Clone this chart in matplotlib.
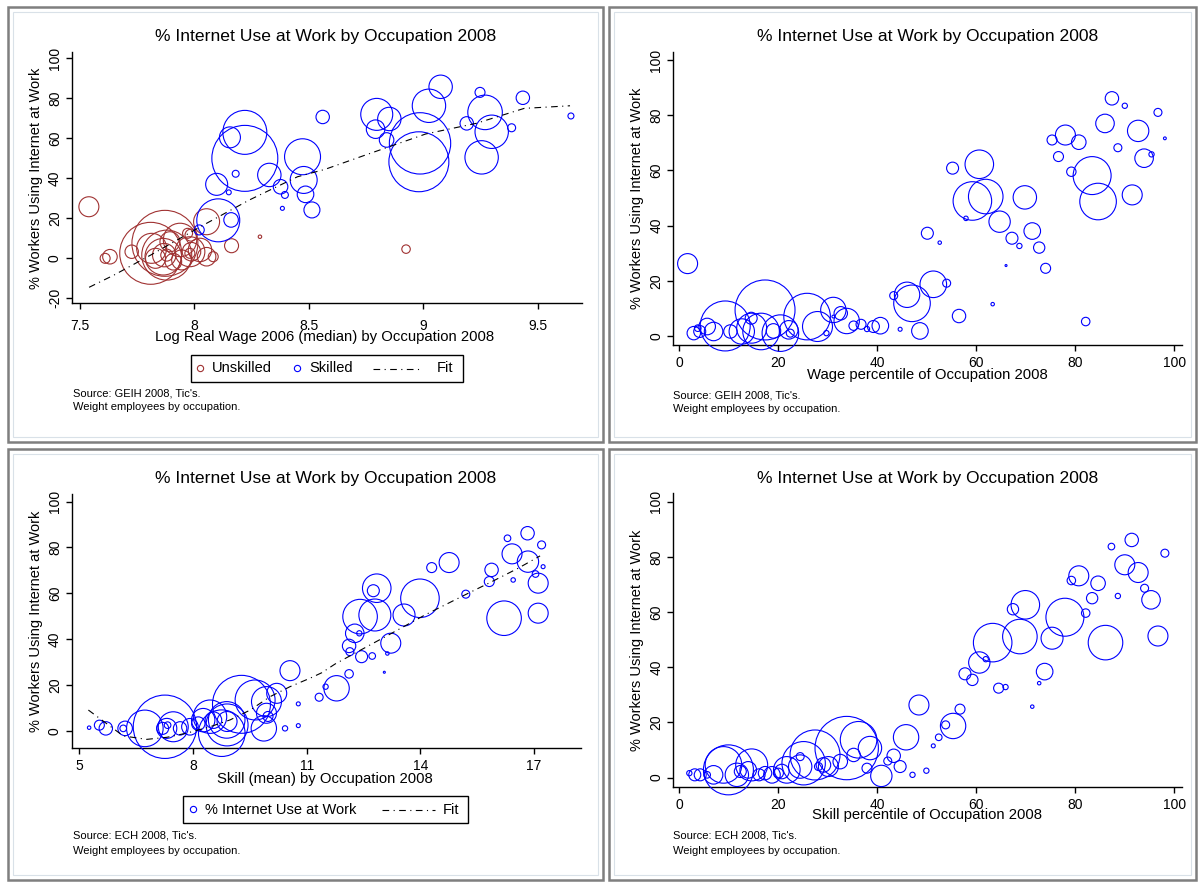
import matplotlib
matplotlib.use('Agg')
import matplotlib.pyplot as plt
import numpy as np
from matplotlib.patches import Rectangle

plt.rcParams['font.family'] = ['Liberation Sans', 'DejaVu Sans']

# ---------------- data ----------------
title_text = "% Internet Use at Work by Occupation 2008"
ylabel_text = "% Workers Using Internet at Work"

# Panel 1: log real wage
p1_sk_x = [8.22, 8.22, 8.155, 8.097, 8.18, 8.15, 8.327, 8.472, 8.477, 8.376,
           8.395, 8.485, 8.513, 8.384, 8.56, 8.104, 8.16, 8.021, 8.796, 8.851,
           8.791, 8.839, 9.024, 9.075, 8.985, 8.98, 9.189, 9.247, 9.269, 9.298,
           9.254, 9.385, 9.434, 9.644]
p1_sk_y = [63, 50, 60.5, 37, 42.3, 33, 41.7, 50.8, 39.2, 35.8,
           31.7, 32, 24.2, 25, 70.7, 19, 19.2, 14.2, 72, 69.7,
           64.6, 59.2, 76.3, 85.8, 57.5, 48.3, 67.5, 83, 73, 63.3,
           50.5, 65.3, 80.3, 71.2]
p1_sk_w = [484, 1089, 110, 121, 12, 6, 137, 324, 182, 53,
           12, 69, 64, 4, 45, 462, 53, 25, 256, 137,
           86, 53, 279, 137, 942, 900, 45, 25, 299, 279,
           279, 16, 45, 9]
p1_un_x = [7.539, 7.631, 7.61, 7.726, 7.809, 7.871, 7.879, 7.864, 7.868, 7.879,
           7.813, 7.98, 7.987, 7.98, 7.937, 8.024, 8.053, 8.053, 7.97, 7.944,
           7.985, 7.908, 7.893, 7.83, 8.082, 8.162, 8.286, 8.924]
p1_un_y = [25.8, 0.8, 0, 3.3, 2.5, 7.5, 1.6, 0.8, 1.6, 1.6,
           5, 3.3, 3.3, 2.5, 9.2, 4.2, 0.8, 18.3, 12.5, -0.8,
           11.6, -1.7, 8.3, 0, 0.8, 6.3, 10.8, 4.6]
p1_un_w = [100, 53, 25, 45, 961, 1089, 625, 335, 137, 36,
           225, 225, 86, 25, 279, 137, 86, 169, 25, 100,
           36, 69, 100, 100, 25, 49, 3, 18]
fit1_x = [7.54, 7.65, 7.81, 8.04, 8.24, 8.45, 8.57, 8.76, 9.01, 9.23, 9.44, 9.64]
fit1_y = [-14.5, -8.3, 1.7, 16.7, 29.2, 40.8, 44.5, 52.2, 62.2, 67.5, 75, 76.3]
p1_xticks = [7.5, 8, 8.5, 9, 9.5]
p1_xticklabels = ['7.5', '8', '8.5', '9', '9.5']
p1_yticks = [-20, 0, 20, 40, 60, 80, 100]

# Panel 2: wage percentile
p2_x = [87.4, 90, 96.7, 98.1, 86, 92.7, 88.6, 93.9, 95.4, 78,
        80.7, 75.3, 76.6, 79.2, 83.4, 84.6, 91.5, 82.1, 60.6, 59.2,
        61.9, 55.2, 57.9, 64.7, 69.8, 71.3, 67.2, 68.7, 72.7, 74,
        66, 52.6, 50.1, 63.3, 56.5, 51.3, 54, 1.65, 46, 47,
        43.3, 48.6, 44.6, 40.6, 39.2, 37.9, 36.7, 35.2, 33.8, 32.6,
        31.1, 31.1, 29.7, 27.9, 25.8, 22.1, 22.4, 20.4, 19, 17.3,
        16.5, 14.6, 14.5, 12.6, 10.3, 9.25, 6.9, 5.6, 4.1, 2.9, 3.7]
p2_y = [86.1, 83.4, 81, 71.6, 77, 74.3, 68.2, 64.4, 65.8, 72.8,
        70.2, 71, 65, 59.5, 58.1, 48.7, 51.1, 5.2, 62.2, 48.9,
        50.5, 60.8, 42.6, 41.4, 50.2, 38, 35.4, 32.6, 32, 24.5,
        25.5, 33.8, 37.2, 11.5, 7.2, 18.7, 19.1, 26.2, 14.9, 11.8,
        14.6, 1.8, 2.4, 3.7, 3.4, 2.5, 4.2, 3.7, 5.4, 8.2,
        9.4, 7, 1, 3.4, 7, 2.2, 1, 1, 1.8, 9.4,
        1.6, 2.8, 6.4, 1.6, 1.6, 3.6, 1.6, 3.4, 1.6, 1, 2.8]
p2_w = [45, 7, 16, 2, 86, 114, 16, 86, 7, 100,
        53, 25, 25, 22, 361, 335, 100, 18, 204, 372,
        299, 36, 5, 114, 137, 69, 36, 7, 32, 25,
        1, 3, 36, 3, 45, 177, 16, 100, 161, 335,
        16, 69, 4, 69, 36, 7, 25, 22, 161, 45,
        161, 2, 7, 225, 543, 86, 16, 335, 53, 900,
        335, 225, 36, 161, 45, 625, 86, 69, 36, 45, 11]

# Panel 3: skill mean
p3_x = [16.83, 16.3, 17.2, 16.42, 16.84, 17.24, 17.04, 17.11, 17.11, 16.21,
        16.45, 15.88, 15.82, 15.2, 14.76, 14.3, 13.99, 13.57, 12.85, 12.76,
        12.41, 12.8, 12.27, 12.39, 12.12, 12.14, 12.45, 12.73, 13.22, 13.13,
        13.05, 12.12, 11.79, 11.5, 10.56, 11.33, 10.78, 10.78, 10.43, 10.21,
        9.94, 9.94, 9.98, 9.87, 9.64, 9.28, 8.89, 8.9, 8.9, 8.76,
        8.45, 8.54, 8.27, 8.14, 7.92, 7.66, 7.48, 7.31, 7.33, 7.26,
        7.2, 6.73, 6.21, 6.16, 5.7, 5.53, 5.26]
p3_y = [86.2, 84, 81.1, 77.2, 73.8, 71.6, 68.4, 64.4, 51.3, 49.1,
        65.8, 70.2, 65.1, 59.6, 73.4, 71.2, 57.8, 50.5, 62.2, 61.1,
        49.8, 50.5, 42.5, 42.5, 37, 34.5, 32.3, 32.6, 38.2, 33.7,
        25.5, 24.8, 18.5, 19.2, 26.2, 14.6, 11.7, 2.2, 1, 16.3,
        7.6, 12.7, 6.2, 1, 13.4, 11.5, 4.7, 4, 2.5, -1.1,
        6.1, 4.6, 4.6, 3.1, 1.7, 1, 1.7, 1, 2.4, 1.7,
        1, 1, 1, 1, 1, 2.4, 1.3]
p3_w = [45, 11, 16, 100, 114, 4, 11, 100, 100, 299,
        5, 45, 25, 16, 100, 25, 372, 121, 204, 36,
        299, 256, 86, 7, 45, 16, 36, 11, 100, 3,
        1, 18, 161, 7, 100, 16, 4, 4, 7, 100,
        100, 225, 25, 161, 400, 841, 335, 100, 441, 543,
        279, 69, 137, 45, 69, 45, 225, 100, 11, 1005,
        36, 335, 53, 11, 45, 25, 3]
fit3_x = [5.24, 6.16, 6.78, 7.31, 7.83, 8.45, 8.98, 9.51, 10.03, 10.56,
          11.09, 11.4, 11.75, 12.27, 13.24, 14.12, 15.18, 15.88, 16.58, 17.16]
fit3_y = [9, -2.3, -3.8, -2.9, -1.1, 1.7, 4.7, 9, 14.8, 19.2,
          22.9, 25.3, 29.1, 33.8, 42.5, 50.5, 59.3, 65, 70.9, 76.3]
p3_xticks = [5, 8, 11, 14, 17]

# Panel 4: skill percentile
p4_x = [91.4, 87.3, 98.1, 90, 92.7, 94, 95.3, 88.6, 96.7, 80.7,
        79.2, 84.6, 83.4, 82.1, 77.9, 86.1, 75.3, 73.8, 72.7, 71.3,
        69.9, 67.4, 68.8, 63.3, 60.6, 61.9, 57.7, 59.2, 64.5, 65.9,
        56.7, 55.3, 53.8, 52.4, 51.3, 48.4, 49.9, 45.8, 47.1, 43.3,
        44.6, 42.1, 40.8, 38.5, 37.9, 36.2, 35.2, 33.8, 32.5, 30.1,
        29.1, 28.1, 27.4, 25.1, 24.4, 24.4, 21.7, 20.7, 20, 18.7,
        17.3, 16.1, 14.6, 13.9, 12.3, 11.6, 9.9, 8.9, 6.9, 5.6,
        4.2, 3.1, 2]
p4_y = [86.1, 83.7, 81.3, 77.1, 74.3, 68.6, 64.4, 65.8, 51.3, 73.1,
        71.4, 70.4, 65, 59.6, 58.1, 48.9, 50.5, 38.4, 34.2, 25.7,
        62.6, 61, 51.1, 48.9, 41.7, 42.9, 37.6, 35.4, 32.4, 32.8,
        24.8, 18.7, 19.1, 14.6, 11.5, 26.3, 2.5, 14.6, 1, 7.9,
        4, 6, 0.6, 10.7, 3.4, 13.7, 8.2, 10.7, 5.8, 4,
        4.6, 4, 8.2, 5.2, 4, 7.6, 2.8, 2.2, 1.6, 1,
        1.6, 1, 4.6, 2.8, 2.2, 1, 2.8, 4.6, 1, 1,
        1, 1, 1.6]
p4_w = [45, 11, 16, 100, 100, 16, 86, 7, 100, 100,
        18, 53, 32, 18, 361, 299, 121, 69, 3, 3,
        204, 32, 299, 372, 114, 7, 36, 32, 25, 7,
        25, 161, 16, 11, 4, 100, 7, 161, 7, 45,
        36, 16, 114, 137, 25, 335, 45, 1005, 53, 100,
        53, 16, 625, 471, 137, 16, 177, 53, 25, 69,
        45, 36, 256, 69, 36, 137, 625, 335, 86, 11,
        36, 36, 7]
pct_ticks = [0, 20, 40, 60, 80, 100]
y_ticks = [0, 20, 40, 60, 80, 100]

xlabels = ["Log Real Wage 2006 (median) by Occupation 2008",
           "Wage percentile of Occupation 2008",
           "Skill (mean) by Occupation 2008",
           "Skill percentile of Occupation 2008"]
sources = ["Source: GEIH 2008, Tic's.", "Source: GEIH 2008, Tic's.",
           "Source: ECH 2008, Tic's.", "Source: ECH 2008, Tic's."]
note_text = "Weight employees by occupation."
legend1_labels = ["Unskilled", "Skilled", "Fit"]
legend3_labels = ["% Internet Use at Work", "Fit"]

# ---------------- style ----------------
W, H, DPI = 1198, 882, 100
BLUE = '#0000ff'
RED = '#a03232'
SIZE_K = 2.07
FIT_LS = (0, (6, 4, 1, 4))

fig = plt.figure(figsize=(W / DPI, H / DPI), dpi=DPI)
bg = fig.add_axes([0, 0, 1, 1])
bg.set_xlim(0, W)
bg.set_ylim(H, 0)
bg.axis('off')


def frame(x0, y0, x1, y1):
    bg.add_patch(Rectangle((x0, y0), x1 - x0, y1 - y0, fill=False,
                           ec='#7f7f7f', lw=1.8))
    bg.add_patch(Rectangle((x0 + 5, y0 + 5), x1 - x0 - 10, y1 - y0 - 10,
                           fill=False, ec='#d9e1e8', lw=0.8))


frame(8, 7, 603, 442)
frame(609, 7, 1196, 442)
frame(8, 449, 603, 880)
frame(609, 449, 1196, 880)


def make_ax(l, t, r, b, xlim, ylim, xticks, xticklabels, yticks, xpad):
    ax = fig.add_axes([l / W, 1 - b / H, (r - l) / W, (b - t) / H])
    ax.set_facecolor('none')
    ax.set_xlim(xlim)
    ax.set_ylim(ylim)
    for s in ['top', 'right']:
        ax.spines[s].set_visible(False)
    for s in ['left', 'bottom']:
        ax.spines[s].set_linewidth(1.0)
    ax.set_xticks(xticks)
    ax.set_xticklabels(xticklabels)
    ax.set_yticks(yticks)
    ax.set_yticklabels([str(v) for v in yticks], rotation=90, va='center')
    ax.tick_params(direction='out', length=4, width=1, labelsize=10)
    ax.tick_params(axis='x', pad=xpad)
    ax.tick_params(axis='y', pad=3)
    return ax


def bubbles(ax, x, y, w, color):
    ax.scatter(x, y, s=np.array(w) * SIZE_K, facecolors='none',
               edgecolors=color, linewidths=0.8, clip_on=False, zorder=3)


# Panel 1
ax1 = make_ax(71.7, 52, 581.7, 303.5, (7.464, 9.691), (-22.6, 103.2),
              p1_xticks, p1_xticklabels, p1_yticks, 7)
bubbles(ax1, p1_un_x, p1_un_y, p1_un_w, RED)
bubbles(ax1, p1_sk_x, p1_sk_y, p1_sk_w, BLUE)
ax1.plot(fit1_x, fit1_y, color='black', lw=0.8, ls=FIT_LS, zorder=4)

# Panel 2
ax2 = make_ax(673, 51.7, 1181.7, 345, (-1.3, 101.5), (-3.3, 103),
              pct_ticks, [str(v) for v in pct_ticks], y_ticks, 4)
bubbles(ax2, p2_x, p2_y, p2_w, BLUE)

# Panel 3
ax3 = make_ax(71.7, 494.3, 581, 748.3, (4.8, 18.24), (-7.7, 103.2),
              p3_xticks, [str(v) for v in p3_xticks], y_ticks, 4)
bubbles(ax3, p3_x, p3_y, p3_w, BLUE)
ax3.plot(fit3_x, fit3_y, color='black', lw=0.8, ls=FIT_LS, zorder=4)

# Panel 4
ax4 = make_ax(673, 493.3, 1181.7, 786.7, (-1.3, 101.5), (-3.3, 103),
              pct_ticks, [str(v) for v in pct_ticks], y_ticks, 4)
bubbles(ax4, p4_x, p4_y, p4_w, BLUE)

# Texts
title_pos = [(326, 37), (928, 37), (326, 478), (928, 478)]
ylab_pos = [(36.5, 178), (636.5, 198), (36.5, 621), (636.5, 640)]
xlab_pos = [(325, 337), (927, 375), (325, 778.5), (927, 815.5)]
src_pos = [(72.7, 393.5), (672.7, 395), (72.7, 835), (672.7, 835)]
note_dy = [13.5, 13.5, 16.5, 16.5]

for i in range(4):
    bg.text(*title_pos[i], title_text, ha='center', va='center', fontsize=12.6)
    bg.text(*ylab_pos[i], ylabel_text, ha='center', va='center',
            rotation=90, fontsize=10.5)
    bg.text(*xlab_pos[i], xlabels[i], ha='center', va='center', fontsize=10.7)
    bg.text(src_pos[i][0], src_pos[i][1], sources[i], ha='left', va='center',
            fontsize=8)
    bg.text(src_pos[i][0], src_pos[i][1] + note_dy[i], note_text, ha='left',
            va='center', fontsize=8)

# Legend panel 1
bg.add_patch(Rectangle((191, 355), 272, 27, fill=False, ec='black', lw=1.0))
ly = 368.5
bg.plot([200], [ly - 1], 'o', mfc='none', mec=RED, ms=4.5, mew=0.8)
bg.text(212, ly, legend1_labels[0], ha='left', va='center', fontsize=10.5)
bg.plot([297], [ly - 1], 'o', mfc='none', mec=BLUE, ms=4.5, mew=0.8)
bg.text(309, ly, legend1_labels[1], ha='left', va='center', fontsize=10.5)
bg.plot([373, 421], [ly, ly], color='black', lw=0.8, ls=FIT_LS)
bg.text(437, ly, legend1_labels[2], ha='left', va='center', fontsize=10.5)

# Legend panel 3
bg.add_patch(Rectangle((183, 796), 285, 27, fill=False, ec='black', lw=1.0))
ly = 809.5
bg.plot([193], [ly - 1], 'o', mfc='none', mec=BLUE, ms=4.5, mew=0.8)
bg.text(205, ly, legend3_labels[0], ha='left', va='center', fontsize=10.5)
bg.plot([382, 435], [ly, ly], color='black', lw=0.8, ls=FIT_LS)
bg.text(443, ly, legend3_labels[1], ha='left', va='center', fontsize=10.5)

fig.savefig('out.png', dpi=DPI)
